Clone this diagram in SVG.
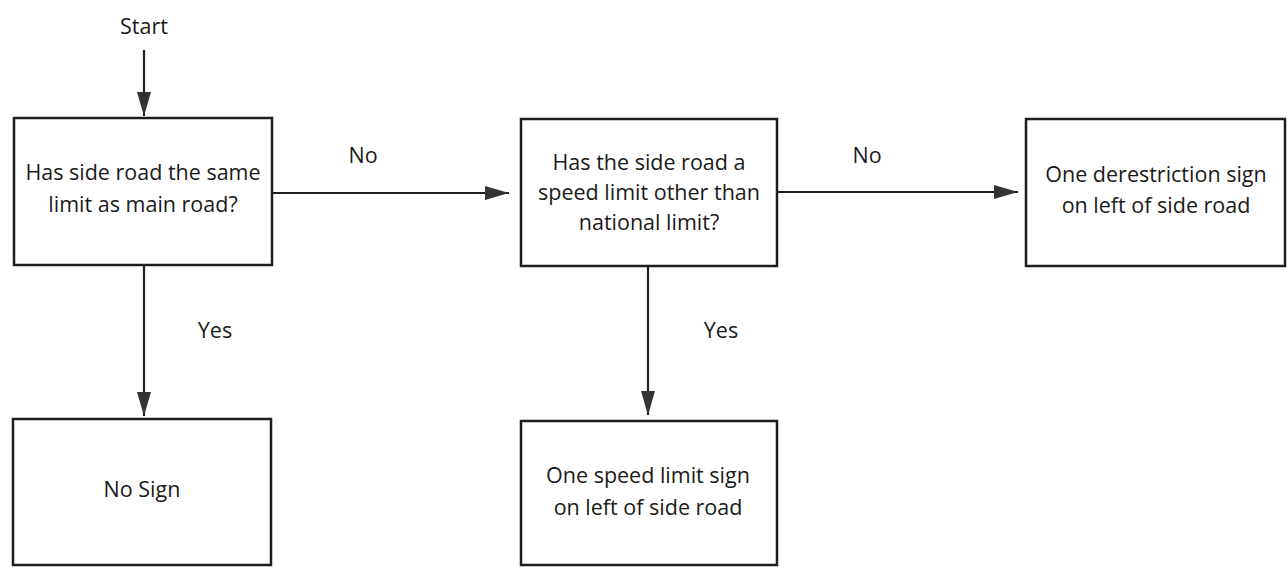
<svg xmlns="http://www.w3.org/2000/svg" width="1287" height="567" viewBox="0 0 1287 567">
<style>
.box{fill:#fff;stroke:#1e1e1e;stroke-width:2.5}
.line{stroke:#1e1e1e;stroke-width:2.2;fill:none}
text{font-family:"Open Sans","Noto Sans",sans-serif;font-size:21.5px;fill:#1a1a1a;text-anchor:middle}
</style>
<defs>
<marker id="ah" viewBox="0 0 24 14" refX="24" refY="7" markerWidth="24" markerHeight="14" markerUnits="userSpaceOnUse" orient="auto">
<path d="M0,0 L24,7 L0,14 z" fill="#333"/>
</marker>
</defs>
<rect width="1287" height="567" fill="#fff"/>
<g id="connectors">
<line class="line" x1="144" y1="50" x2="144" y2="116" marker-end="url(#ah)"/>
<line class="line" x1="272" y1="193" x2="509" y2="193" marker-end="url(#ah)"/>
<line class="line" x1="777" y1="192" x2="1018" y2="192" marker-end="url(#ah)"/>
<line class="line" x1="144" y1="265" x2="144" y2="416" marker-end="url(#ah)"/>
<line class="line" x1="648" y1="266" x2="648" y2="415" marker-end="url(#ah)"/>
<text x="144" y="34">Start</text>
<text x="363" y="163">No</text>
<text x="867" y="163">No</text>
<text x="215" y="338">Yes</text>
<text x="721" y="338">Yes</text>
</g>
<g id="n1">
<rect class="box" x="14" y="118" width="258" height="147"/>
<text x="143" y="180">Has side road the same</text>
<text x="143" y="212">limit as main road?</text>
</g>
<g id="n2">
<rect class="box" x="521" y="119" width="256" height="147"/>
<text x="649" y="170">Has the side road a</text>
<text x="649" y="200">speed limit other than</text>
<text x="649" y="230">national limit?</text>
</g>
<g id="n3">
<rect class="box" x="1026" y="119" width="259" height="147"/>
<text x="1156" y="182">One derestriction sign</text>
<text x="1156" y="213">on left of side road</text>
</g>
<g id="n4">
<rect class="box" x="13" y="419" width="258" height="146"/>
<text x="142" y="497">No Sign</text>
</g>
<g id="n5">
<rect class="box" x="521" y="421" width="256" height="144"/>
<text x="648" y="483">One speed limit sign</text>
<text x="648" y="515">on left of side road</text>
</g>
</svg>
